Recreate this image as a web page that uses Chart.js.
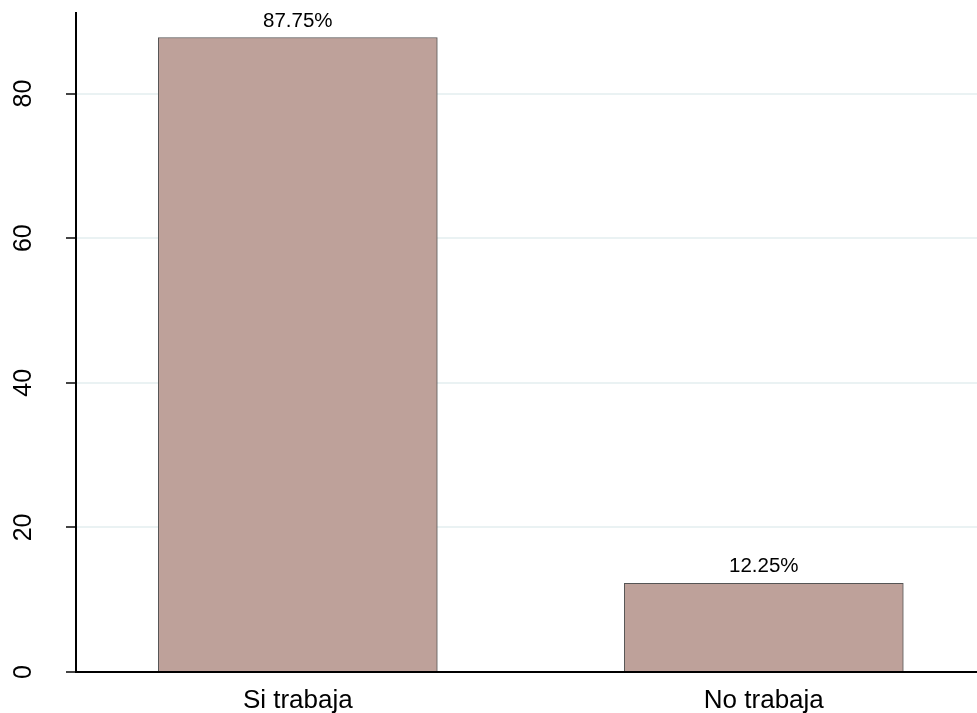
<!DOCTYPE html>
<html>
<head>
<meta charset="utf-8">
<script src="https://cdn.jsdelivr.net/npm/chart.js@4.4.0/dist/chart.umd.min.js"></script>
<style>
  html, body { margin: 0; padding: 0; background: #fff; }
  #wrap { width: 977px; height: 713px; }
</style>
</head>
<body>
<div id="wrap"><canvas id="chart"></canvas></div>
<script>
    const categories = ['Si trabaja', 'No trabaja'];
    const percents = [87.75, 12.25];
    const yTicks = [0, 20, 40, 60, 80];

    const FONT = '"Liberation Sans", Arial, sans-serif';

    // rotated y tick labels + value labels above bars
    const textPlugin = {
        id: 'textPlugin',
        afterDraw(chart) {
            const ctx = chart.ctx;
            const yScale = chart.scales.y;
            ctx.save();
            ctx.fillStyle = '#000';
            ctx.font = '25px ' + FONT;
            ctx.textAlign = 'center';
            ctx.textBaseline = 'middle';
            yTicks.forEach(v => {
                const py = yScale.getPixelForValue(v);
                ctx.save();
                ctx.translate(24, py);
                ctx.rotate(-Math.PI / 2);
                ctx.fillText(String(v), 0, 0);
                ctx.restore();
            });

            ctx.font = '20.5px ' + FONT;
            ctx.textBaseline = 'alphabetic';
            chart.getDatasetMeta(0).data.forEach((bar, i) => {
                ctx.fillText(percents[i].toFixed(2) + '%', bar.x, bar.y - 11);
            });
            ctx.restore();
        }
    };

    const ctx = document.getElementById('chart').getContext('2d');
    window.barChart = new Chart(ctx, {
        type: 'bar',
        data: {
            datasets: [{
                data: percents.map((p, i) => ({ x: i + 1, y: p })),
                backgroundColor: '#bea19a',
                borderColor: '#555555',
                borderWidth: 1,
                barThickness: 279
            }]
        },
        options: {
            responsive: true,
            maintainAspectRatio: false,
            animation: false,
            layout: { padding: { top: 13, right: 0, left: 0, bottom: 0 } },
            plugins: {
                legend: { display: false },
                tooltip: { enabled: false }
            },
            scales: {
                x: {
                    type: 'linear',
                    offset: false,
                    min: 0.524,
                    max: 2.4575,
                    afterBuildTicks: scale => {
                        scale.ticks = categories.map((c, i) => ({ value: i + 1 }));
                    },
                    afterFit: scale => { scale.height = 41; },
                    grid: { display: false },
                    border: { display: true, color: '#000', width: 2 },
                    ticks: {
                        color: '#000',
                        padding: 5,
                        maxRotation: 0,
                        font: { family: FONT, size: 26 },
                        callback: v => categories[v - 1] || ''
                    }
                },
                y: {
                    min: 0,
                    max: 91.14,
                    afterBuildTicks: scale => {
                        scale.ticks = yTicks.map(v => ({ value: v }));
                    },
                    afterFit: scale => { scale.width = 76; },
                    grid: {
                        color: '#eaf2f3',
                        lineWidth: 2,
                        tickColor: '#444',
                        tickLength: 10,
                        drawTicks: true
                    },
                    border: { display: true, color: '#000', width: 2 },
                    ticks: { display: false }
                }
            }
        },
        plugins: [textPlugin]
    });
</script>
</body>
</html>
